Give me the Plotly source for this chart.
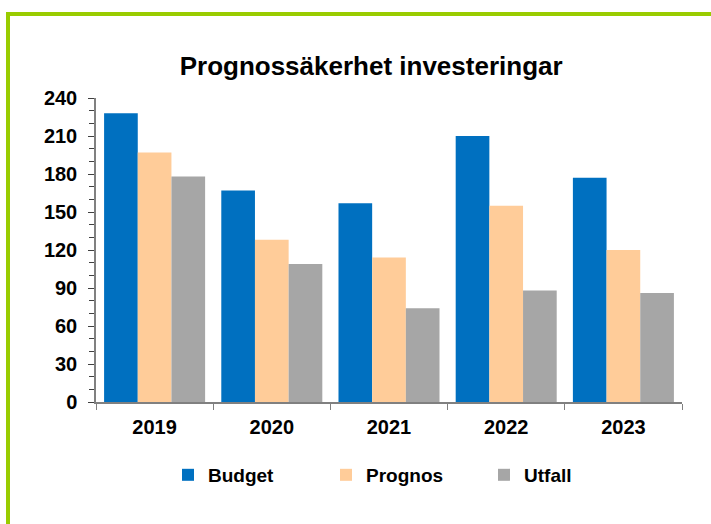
import plotly.graph_objects as go

years = ["2019", "2020", "2021", "2022", "2023"]
budget = [228, 167, 157, 210, 177]
prognos = [197, 128, 114, 155, 120]
utfall = [178, 109, 74, 88, 86]

series_names = ["Budget", "Prognos", "Utfall"]
series_colors = ["#0070C0", "#FFCC99", "#A6A6A6"]
y_ticks = [0, 30, 60, 90, 120, 150, 180, 210, 240]

FONT = "Liberation Sans, Arial, sans-serif"

fig = go.Figure()
for name, vals, col in zip(series_names, [budget, prognos, utfall], series_colors):
    fig.add_trace(go.Bar(x=years, y=vals, name=name, marker=dict(color=col, line=dict(width=0))))

fig.update_layout(
    width=711, height=524,
    margin=dict(l=96, r=29, t=98, b=122, autoexpand=False),
    paper_bgcolor="white", plot_bgcolor="white",
    barmode="group", bargap=0.138, bargroupgap=0,
    font=dict(family=FONT, color="black"),
    title=dict(text="Prognossäkerhet investeringar", xref="container", x=0.522, xanchor="center",
               yref="container", y=1 - 66 / 524, yanchor="middle",
               font=dict(family=FONT, size=26, weight="bold", color="black")),
    showlegend=True,
    legend=dict(orientation="h", xref="paper", x=(168 - 96) / 586, xanchor="left", yref="paper", y=-0.24,
                yanchor="middle",
                font=dict(family=FONT, size=19, weight="bold"), entrywidth=113, entrywidthmode="pixels",
                traceorder="normal"),
    xaxis=dict(showline=True, linecolor="#808080", linewidth=1.5, ticks="outside", ticklen=6, tickcolor="#808080",
               tickson="boundaries", tickfont=dict(family=FONT, size=20, weight="bold"), showgrid=False,
               ticklabelstandoff=6),
    yaxis=dict(range=[0, 240], tickvals=y_ticks, showline=True, linecolor="#808080", linewidth=1.5, ticks="outside",
               ticklen=6, tickcolor="#404040", tickfont=dict(family=FONT, size=20, weight="bold"), showgrid=False,
               zeroline=False, ticklabelstandoff=7,
               minor=dict(dtick=10, ticks="outside", ticklen=5, tickcolor="#404040", showgrid=False)),
)

green = "#99CC00"
fig.add_shape(type="line", xref="paper", yref="paper", x0=(8 - 96) / 586, x1=(8 - 96) / 586,
              y0=(402 - 14) / 304, y1=(402 - 530) / 304, line=dict(color=green, width=4))
fig.add_shape(type="line", xref="paper", yref="paper", x0=(6 - 96) / 586, x1=(720 - 96) / 586,
              y0=(402 - 14) / 304, y1=(402 - 14) / 304, line=dict(color=green, width=4))

fig.write_html("out.html", config={"displayModeBar": False},
               post_script="document.body.style.margin='0';document.body.style.overflow='hidden';")
